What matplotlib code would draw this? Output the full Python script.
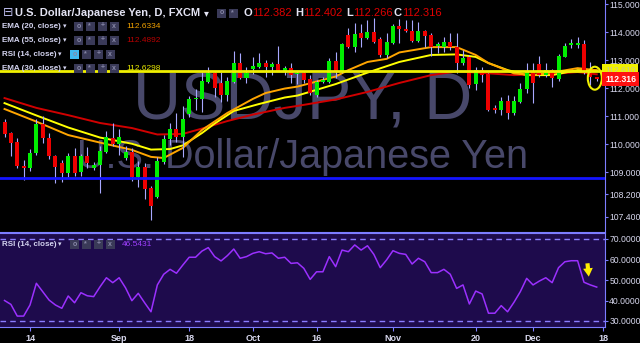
import numpy as np
import matplotlib
matplotlib.use('Agg')
import matplotlib.pyplot as plt
import matplotlib.transforms as mtransforms
from matplotlib.patches import Rectangle, Ellipse

plt.rcParams['font.family'] = ['Liberation Sans', 'DejaVu Sans']

# ---- USD/JPY daily candles (bar 0 = Aug 8, bar 93 = Dec 15) ----
opens = [110.79, 110.39, 110.07, 109.21, 109.14, 109.68, 110.71, 110.21, 109.57, 109.32,
         108.96, 109.57, 109.00, 109.57, 109.14, 109.25, 109.71, 110.21, 110.00, 109.50,
         109.71, 108.82, 109.18, 108.43, 108.11, 109.36, 110.18, 110.54, 110.25, 111.07,
         111.61, 111.61, 112.21, 112.54, 112.18, 111.75, 112.21, 112.89, 112.36, 112.68,
         112.75, 112.89, 112.75, 112.86, 112.57, 112.71, 112.50, 112.54, 112.32, 111.75,
         112.23, 112.21, 112.96, 112.57, 113.89, 113.46, 113.96, 113.79, 114.00, 113.75,
         113.18, 113.61, 114.21, 114.10, 114.04, 113.69, 114.04, 113.89, 113.50, 113.48,
         113.65, 113.48, 112.89, 113.11, 112.14, 112.64, 112.50, 111.27, 111.21, 111.54,
         111.10, 111.51, 111.96, 112.58, 112.85, 112.46, 112.64, 112.31, 113.12, 113.55,
         113.55, 113.57, 112.54, 112.382]
highs = [110.89, 110.43, 110.21, 109.43, 109.82, 110.89, 111.00, 110.39, 109.61, 109.43,
         109.68, 109.86, 109.64, 109.89, 109.36, 109.93, 110.46, 110.75, 110.54, 109.93,
         109.86, 109.39, 109.32, 108.50, 109.54, 110.32, 110.75, 111.11, 111.36, 111.71,
         111.96, 112.57, 112.75, 112.57, 112.57, 112.39, 113.32, 113.25, 112.75, 113.11,
         113.25, 113.00, 112.93, 113.50, 112.79, 112.89, 112.61, 112.57, 112.46, 112.29,
         112.39, 113.07, 113.29, 113.61, 114.14, 114.32, 114.29, 114.43, 114.50, 113.82,
         113.96, 114.29, 114.45, 114.43, 114.43, 114.36, 114.07, 113.96, 113.65, 113.83,
         113.96, 113.96, 113.36, 113.18, 112.76, 112.76, 112.54, 111.39, 111.68, 111.75,
         111.71, 112.18, 112.90, 112.90, 113.14, 112.90, 112.67, 113.21, 113.62, 113.75,
         113.82, 113.71, 112.94, 112.402]
lows = [110.25, 109.57, 109.14, 108.71, 109.04, 109.61, 110.04, 109.46, 108.61, 108.64,
        108.82, 108.86, 108.86, 109.14, 109.07, 108.25, 109.68, 109.93, 109.61, 109.43,
        108.68, 108.46, 108.04, 107.29, 108.07, 109.29, 109.96, 110.07, 109.54, 110.96,
        111.21, 111.14, 112.18, 111.68, 111.50, 111.54, 112.18, 112.32, 112.18, 112.50,
        112.72, 112.39, 112.46, 112.59, 112.46, 112.18, 112.14, 112.18, 111.75, 111.68,
        112.18, 112.18, 112.36, 112.54, 113.43, 113.29, 113.46, 113.75, 113.61, 113.11,
        113.07, 113.58, 113.61, 114.00, 113.64, 113.64, 113.46, 113.14, 113.24, 113.30,
        113.36, 112.54, 112.82, 112.00, 111.93, 112.23, 111.18, 111.12, 111.04, 110.89,
        111.04, 111.48, 111.81, 111.45, 112.40, 112.40, 112.05, 112.26, 113.10, 113.43,
        113.43, 112.50, 112.11, 112.266]
closes = [110.36, 110.04, 109.21, 109.14, 109.68, 110.71, 110.21, 109.57, 109.18, 108.96,
          109.57, 108.96, 109.57, 109.32, 109.25, 109.75, 110.25, 110.00, 110.25, 109.71,
          108.82, 109.18, 108.39, 107.79, 109.39, 110.18, 110.54, 110.25, 110.89, 111.61,
          111.64, 112.25, 112.54, 112.00, 111.75, 112.25, 112.89, 112.36, 112.54, 112.79,
          112.89, 112.75, 112.86, 112.61, 112.71, 112.46, 112.54, 112.29, 111.82, 112.21,
          112.27, 112.96, 112.57, 113.57, 113.46, 113.93, 113.79, 114.00, 113.64, 113.18,
          113.64, 114.21, 114.09, 114.05, 113.69, 114.04, 113.87, 113.46, 113.56, 113.65,
          113.48, 112.88, 113.07, 112.11, 112.64, 112.46, 111.21, 111.23, 111.54, 111.10,
          111.54, 111.96, 112.58, 112.19, 112.46, 112.64, 112.35, 113.14, 113.50, 113.59,
          113.59, 112.52, 112.40, 112.316]

# EMAs (bar index, price)
ema20_bar = [0, 5, 10, 15, 20, 23, 25, 28, 31, 35, 39, 41, 44, 46, 52, 54, 57, 60, 62, 67,
             71, 74, 76, 78, 80, 83, 88, 90, 93]
ema20 = [111.25, 110.80, 110.32, 110.05, 109.79, 109.54, 109.50, 109.86, 110.50, 111.11,
         111.61, 111.82, 111.98, 112.05, 112.41, 112.64, 112.93, 113.04, 113.27, 113.46,
         113.46, 113.18, 112.89, 112.71, 112.52, 112.46, 112.63, 112.71, 112.6334]
ema30_bar = [0, 5, 10, 15, 20, 23, 26, 28, 31, 33, 36, 40, 44, 46, 52, 57, 62, 67, 71, 74,
             76, 79, 82, 86, 90, 93]
ema30 = [111.46, 111.02, 110.59, 110.23, 110.01, 109.80, 109.82, 109.95, 110.39, 110.73,
         111.18, 111.43, 111.66, 111.73, 112.14, 112.55, 112.93, 113.18, 113.20, 113.11,
         112.89, 112.64, 112.46, 112.46, 112.64, 112.6298]
ema55_bar = [0, 5, 10, 15, 20, 24, 28, 31, 35, 39, 44, 46, 52, 57, 62, 67, 71, 75, 80, 86,
             90, 93]
ema55 = [111.64, 111.29, 111.03, 110.75, 110.57, 110.34, 110.36, 110.55, 110.82, 111.05,
         111.29, 111.36, 111.59, 111.86, 112.18, 112.46, 112.59, 112.54, 112.46, 112.50,
         112.57, 112.4892]

rsi = [40.0, 38.1, 32.4, 32.4, 37.8, 48.4, 44.3, 40.2, 37.8, 36.2,
       42.2, 38.9, 43.8, 42.3, 41.9, 46.7, 51.1, 48.7, 51.1, 46.2,
       39.9, 43.5, 38.9, 34.5, 47.6, 52.8, 55.2, 53.3, 57.3, 61.1,
       61.1, 64.1, 65.8, 61.4, 59.3, 61.9, 65.1, 60.6, 61.4, 63.0,
       63.8, 62.8, 63.2, 60.6, 61.1, 58.1, 58.4, 55.7, 50.3, 54.0,
       54.0, 61.4, 56.5, 64.6, 63.8, 67.1, 64.6, 66.7, 62.5, 56.0,
       59.8, 64.3, 63.0, 62.5, 57.8, 60.6, 58.9, 53.6, 53.6, 55.2,
       52.8, 45.9, 47.6, 38.3, 44.6, 43.2, 33.8, 33.8, 37.5, 34.5,
       39.1, 44.3, 50.8, 47.6, 49.5, 51.1, 48.7, 56.0, 58.9, 59.4,
       59.4, 48.9, 47.6, 46.5431]

hline_yellow = 112.61
hline_blue = 108.80

price_ticks = [107.4, 108.2, 109, 110, 111, 112, 113, 114, 115]
rsi_ticks = [30, 40, 50, 60, 70]
date_bars = [4, 18, 29, 39, 49, 61, 74, 83, 94]
date_labels = ['14', 'Sep', '18', 'Oct', '16', 'Nov', '20', 'Dec', '18']

# ---- colours ----
UP = '#00ee00'
DOWN = '#ee0000'
WICK = '#a8a8ff'
GRID = '#7d7dff'
TXT = '#d8d8ee'

W, H = 640, 343
fig = plt.figure(figsize=(W / 100, H / 100), dpi=100, facecolor='black')

ax = fig.add_axes([0, 1 - 232 / H, 605 / W, 232 / H], facecolor='black')
ax2 = fig.add_axes([0, 1 - 327 / H, 605 / W, 94 / H], facecolor='#1e0b4c', sharex=ax)

x = np.arange(len(opens))
o = np.array(opens); c = np.array(closes)
hi = np.array(highs); lo = np.array(lows)
up = c >= o

# watermark
ax.text(0.5, 1 - 120 / 232, 'USDJPY, D', transform=ax.transAxes, ha='center', va='baseline',
        fontsize=48, color='#48486a', zorder=0)
ax.text(0.5, 1 - 168 / 232, 'U.S. Dollar/Japanese Yen', transform=ax.transAxes, ha='center',
        va='baseline', fontsize=28.5, color='#48486a', zorder=0)

# EMAs
ax.plot(ema55_bar, ema55, color='#d00000', lw=1.4, zorder=2)
ax.plot(ema30_bar, ema30, color='#ffff00', lw=1.4, zorder=2)
ax.plot(ema20_bar, ema20, color='#ffa500', lw=1.4, zorder=2)

# candles
ax.vlines(x, lo, hi, color=WICK, lw=0.8, zorder=3)
body_lo = np.minimum(o, c)
body_h = np.maximum(np.abs(c - o), 0.03)
ax.bar(x, body_h, bottom=body_lo, width=0.63, color=np.where(up, UP, DOWN), zorder=4)

# drawn lines
ax.axhline(hline_yellow, color='#f0f000', lw=2, zorder=5)
ax.axhline(hline_blue, color='#1414ff', lw=2, zorder=5)
ax.add_patch(Ellipse((92.7, 112.35), 2.2, 0.82, fill=False, ec='#f0f000', lw=1.5, zorder=6))

ax.set_xlim(-0.71, 94.3)
ax.set_ylim(115 - 228 / 28, 115 + 4 / 28)
ax.yaxis.tick_right()
ax.set_yticks(price_ticks)
ax.set_yticklabels(['%.3f' % v for v in price_ticks])
ax.tick_params(axis='y', colors=GRID, labelcolor=TXT, labelsize=6.2, length=2, pad=1)
ax.tick_params(axis='x', bottom=False, labelbottom=False)
for s in ['top', 'left']:
    ax.spines[s].set_visible(False)
ax.spines['right'].set_color(GRID)
ax.spines['bottom'].set_color(GRID)

# price labels on the axis
bt = mtransforms.blended_transform_factory(ax.transAxes, ax.transData)
ax.text(1.0, hline_yellow, '%.3f' % hline_yellow, transform=bt, ha='left', va='center',
        fontsize=6.2, color='#c8c890', clip_on=False, zorder=7,
        bbox=dict(boxstyle='square,pad=0.3', fc='#f0f000', ec='none'))
ax.text(1.0, closes[-1], '%.3f' % closes[-1], transform=bt, ha='left', va='center',
        fontsize=6.2, color='white', fontweight='bold', clip_on=False, zorder=8,
        bbox=dict(boxstyle='square,pad=0.3', fc='#ff1010', ec='none'))

# RSI panel
ax2.plot(x, rsi, color='#9b30ff', lw=1.1, zorder=3)
ax2.axhline(70, color='#8a7dff', lw=1, ls=(0, (4, 3)))
ax2.axhline(30, color='#8a7dff', lw=1, ls=(0, (4, 3)))
ax2.annotate('', xy=(91.8, 50.3), xytext=(91.5, 59.5),
             arrowprops=dict(arrowstyle='simple,head_width=0.7,head_length=0.6,tail_width=0.3',
                             color='#ffee00', lw=0))
ax2.set_ylim(30 - 6 / 2.05, 70 + 6 / 2.05)
ax2.yaxis.tick_right()
ax2.set_yticks(rsi_ticks)
ax2.set_yticklabels(['%.4f' % v for v in rsi_ticks])
ax2.set_xticks(date_bars)
ax2.set_xticklabels(date_labels)
ax2.tick_params(axis='y', colors=GRID, labelcolor=TXT, labelsize=6.2, length=2, pad=1)
ax2.tick_params(axis='x', colors=GRID, labelcolor=TXT, labelsize=6.5, length=3, pad=2)
for lab in ax2.get_xticklabels():
    lab.set_fontweight('bold')
ax2.spines['left'].set_visible(False)
for s in ['top', 'right', 'bottom']:
    ax2.spines[s].set_color(GRID)


# ---- legend header (TradingView style) ----
def ftext(px, py, s, **kw):
    fig.text(px / W, 1 - py / H, s, va='center', ha='left', **kw)


def icons(px, py, n, first='#3a3a58'):
    sym = ['o', '*', '+', 'x']
    for k in range(n):
        x0 = px + k * 12
        fc = first if k == 0 else '#3a3a58'
        fig.add_artist(Rectangle((x0 / W, 1 - (py + 4.5) / H), 9 / W, 9 / H,
                                 transform=fig.transFigure, fc=fc, ec='none'))
        ftext(x0 + 4.5 - 2.2, py, sym[k], fontsize=5, color='#8888a8', fontweight='bold')


ftext(3, 13, '\u229f', fontsize=9, color='#b8b8e8', family=['DejaVu Sans'])
ftext(15, 13, 'U.S. Dollar/Japanese Yen, D, FXCM', fontsize=8, color='#e4e4f4', fontweight='bold')
ftext(204, 13, '\u25be', fontsize=7, color='#e4e4f4', family=['DejaVu Sans'])
icons(217, 13, 2)
ohlc = [('O', 244, 252, opens[-1]), ('H', 295, 303, highs[-1]),
        ('L', 346, 353, lows[-1]), ('C', 394, 402, closes[-1])]
for lab, lx, vx, v in ohlc:
    ftext(lx, 13, lab, fontsize=8, color='#e4e4f4', fontweight='bold')
    ftext(vx, 13, '%.3f' % v, fontsize=8, color='#e00000')

rows = [('EMA (20, close)', 26, 63, 74, '112.6334', '#f0a000', '#3a3a58'),
        ('EMA (55, close)', 40, 63, 74, '112.4892', '#b80000', '#3a3a58'),
        ('RSI (14, close)', 54, 58, 70, None, None, '#40b8f0'),
        ('EMA (30, close)', 68, 63, 74, '112.6298', '#e8e800', '#3a3a58'),
        ('RSI (14, close)', 244, 58, 70, '46.5431', '#a040ff', '#3a3a58')]
for lab, py, ax_, ix, val, vc, fc in rows:
    ftext(2, py, lab, fontsize=5.8, color='#d4d4f0', fontweight='bold')
    ftext(ax_, py, '\u25be', fontsize=5, color='#d4d4f0', family=['DejaVu Sans'])
    icons(ix, py, 4, first=fc)
    if val:
        ftext(ix + 52, py, val, fontsize=6, color=vc)

fig.savefig('out.png', dpi=100, facecolor='black')
